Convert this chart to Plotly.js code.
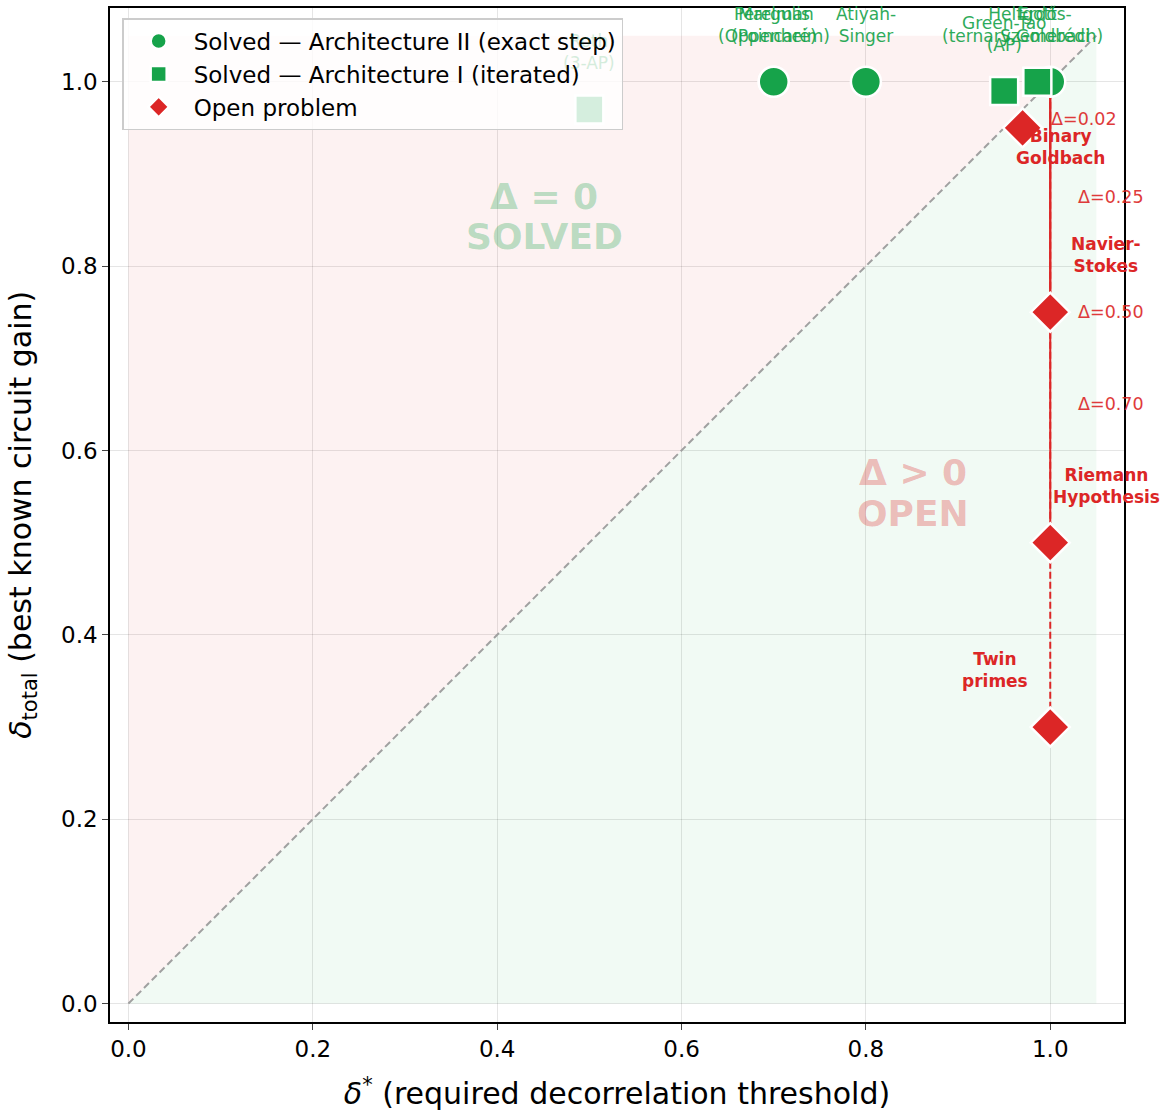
<!DOCTYPE html>
<html>
<head>
<meta charset="utf-8">
<script src="https://cdn.plot.ly/plotly-3.0.1.min.js"></script>
<style>html,body{margin:0;padding:0;background:#fff;}</style>
</head>
<body>
<div id="chart" style="width:1167px;height:1114px;"></div>
<script>
// ---- data ----
const archII_names = ["Perelman\n(Poincaré)", "Margulis\n(Oppenheim)", "Atiyah-\nSinger", "Erdős-\nSzemerédi"];
const archII_x = [0.70, 0.70, 0.80, 1.00];
const archII_y = [1.00, 1.00, 1.00, 1.00];

const archI_names = ["Roth\n(3-AP)", "Green-Tao\n(AP)", "Helfgott\n(ternary Goldbach)"];
const archI_x = [0.50, 0.95, 0.986];
const archI_y = [0.97, 0.99, 1.00];

const open_names = ["Binary\nGoldbach", "Navier-\nStokes", "Riemann\nHypothesis", "Twin\nprimes"];
const open_x = [0.97, 1.00, 1.00, 1.00];   // delta* (required)
const open_y = [0.95, 0.75, 0.50, 0.30];   // delta_total (best known)

const regionMax = 1.05;
const xTicks = [0, 0.2, 0.4, 0.6, 0.8, 1.0];
const yTicks = [0, 0.2, 0.4, 0.6, 0.8, 1.0];
const solvedText = ["Δ = 0", "SOLVED"];
const openText = ["Δ &gt; 0", "OPEN"];
const yTitle = "<i>δ</i><sub>total</sub> (best known circuit gain)";
const xTitle = "<i>δ</i><sup>*</sup> (required decorrelation threshold)";

// ---- styles ----
const GREEN = "#16a34a";
const RED = "#dc2626";
const FONT = "DejaVu Sans, sans-serif";

const traces = [];
traces.push({x: [0, 0, regionMax, 0], y: [0, regionMax, regionMax, 0], mode: "lines", fill: "toself",
  fillcolor: "rgba(220,38,38,0.06)", line: {width: 0}, showlegend: false, hoverinfo: "skip"});
traces.push({x: [0, regionMax, regionMax, 0], y: [0, 0, regionMax, 0], mode: "lines", fill: "toself",
  fillcolor: "rgba(22,163,74,0.06)", line: {width: 0}, showlegend: false, hoverinfo: "skip"});
traces.push({x: [0, regionMax], y: [0, regionMax], mode: "lines",
  line: {color: "#a0a0a0", width: 2, dash: "7px,4px"}, showlegend: false, hoverinfo: "skip"});
const gapDash = ["solid", "solid", "solid", "7px,3px"];
open_x.forEach((x, i) => {
  traces.push({x: [x, x], y: [x, open_y[i]], mode: "lines",
    line: {color: RED, width: 2, dash: gapDash[i]}, showlegend: false, hoverinfo: "skip"});
});
traces.push({x: archII_x, y: archII_y, mode: "markers", name: "Solved — Architecture II (exact step)",
  marker: {symbol: "circle", size: 30, color: GREEN, line: {color: "white", width: 2.5}}});
traces.push({x: archI_x, y: archI_y, mode: "markers", name: "Solved — Architecture I (iterated)",
  marker: {symbol: "square", size: 28, color: GREEN, line: {color: "white", width: 2.5}}});
traces.push({x: open_x, y: open_y, mode: "markers", name: "Open problem",
  marker: {symbol: "diamond", size: 30, color: RED, line: {color: "white", width: 2.5}}});

const ann = [];
const br = s => s.replace(/\n/g, "<br>");
archII_x.forEach((x, i) => {
  ann.push({x: x, y: archII_y[i], xref: "x", yref: "y", text: br(archII_names[i]), showarrow: false,
    yshift: 57, font: {family: FONT, size: 17, color: GREEN}, opacity: 0.9, xshift: i === 3 ? -5 : 0});
});
archI_x.forEach((x, i) => {
  ann.push({x: x, y: archI_y[i], xref: "x", yref: "y", text: br(archI_names[i]), showarrow: false,
    yshift: 57, xshift: i === 2 ? -15 : 0,
    font: {family: FONT, size: 17, color: GREEN}, opacity: i === 0 ? 0.18 : 0.9});
});
const openShift = [[38, -19], [56, 57], [56, 57], [-55, 57]];
open_x.forEach((x, i) => {
  ann.push({x: x, y: open_y[i], xref: "x", yref: "y", text: "<b>" + br(open_names[i]) + "</b>", showarrow: false,
    xshift: openShift[i][0], yshift: openShift[i][1], font: {family: FONT, size: 17, color: RED}});
});
open_x.forEach((x, i) => {
  const gap = x - open_y[i];
  ann.push({x: x, y: (x + open_y[i]) / 2, xref: "x", yref: "y", text: "Δ=" + gap.toFixed(2), showarrow: false,
    xanchor: "left", xshift: 26, font: {family: FONT, size: 17.5, color: RED}, opacity: 0.9});
});
[0.875, 0.832].forEach((y, i) => {
  ann.push({x: 0.451, y: y, xref: "x", yref: "y", text: "<b>" + solvedText[i] + "</b>", showarrow: false,
    font: {family: FONT, size: 36, color: "rgba(22,163,74,0.3)"}});
});
[0.576, 0.532].forEach((y, i) => {
  ann.push({x: 0.851, y: y, xref: "x", yref: "y", text: "<b>" + openText[i] + "</b>", showarrow: false,
    font: {family: FONT, size: 36, color: "rgba(220,38,38,0.3)"}});
});
// y-axis title placed as annotation for exact position
ann.push({x: -0.087, y: 0.5, xref: "paper", yref: "paper", text: yTitle, textangle: -90, showarrow: false,
  xanchor: "center", yanchor: "middle", font: {family: FONT, size: 30, color: "black"}});

const layout = {
  width: 1167, height: 1114,
  margin: {l: 110, r: 43, t: 8, b: 92},
  paper_bgcolor: "white", plot_bgcolor: "white",
  font: {family: FONT, color: "black"},
  xaxis: {range: [-0.02, 1.08], tickvals: xTicks, ticktext: xTicks.map(v => v.toFixed(1)),
    showline: true, mirror: true, linecolor: "black", linewidth: 1.5, ticks: "outside", ticklen: 6,
    tickfont: {size: 23}, gridcolor: "rgba(0,0,0,0.1)", zeroline: false,
    title: {text: xTitle, font: {size: 30}, standoff: 22}},
  yaxis: {range: [-0.02, 1.08], tickvals: yTicks, ticktext: yTicks.map(v => v.toFixed(1)),
    showline: true, mirror: true, linecolor: "black", linewidth: 1.5, ticks: "outside", ticklen: 6,
    tickfont: {size: 23}, gridcolor: "rgba(0,0,0,0.1)", zeroline: false},
  legend: {x: 0.012, y: 0.99, xanchor: "left", yanchor: "top", bgcolor: "rgba(255,255,255,0.82)",
    bordercolor: "#cccccc", borderwidth: 1.5, font: {size: 23}, itemsizing: "trace", itemwidth: 60},
  annotations: ann,
  showlegend: true
};
Plotly.newPlot("chart", traces, layout, {displayModeBar: false});
</script>
</body>
</html>
